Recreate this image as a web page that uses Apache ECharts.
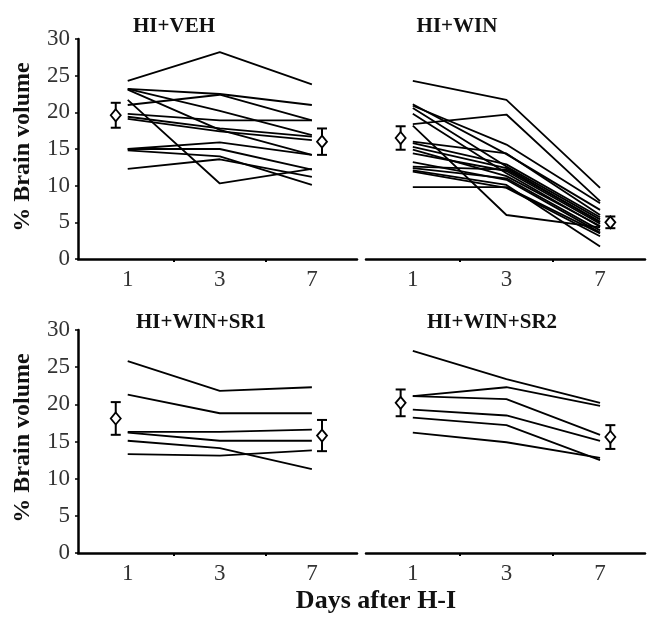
<!DOCTYPE html>
<html>
<head>
    <meta charset="utf-8"/>
    <title>Brain volume after H-I</title>
    <script src="https://cdn.jsdelivr.net/npm/echarts@6/dist/echarts.min.js"></script>
    <style>
        html, body { margin: 0; padding: 0; background: #fff; }
        #main { width: 649px; height: 618px; }
    </style>
</head>
<body>
<div id="main"></div>
<script type="text/javascript">
    // x tick labels (days after H-I)
    let days = ['1', '3', '7'];

    // one row per animal: % brain volume on day 1, 3, 7
    let vehLines = [
        [24.3, 28.2, 23.8],
        [23.2, 22.5, 21.0],
        [23.2, 20.2, 16.9],
        [23.1, 17.6, 14.2],
        [21.7, 10.3, 12.3],
        [21.0, 22.4, 18.9],
        [19.8, 18.9, 18.9],
        [19.4, 17.8, 16.7],
        [19.1, 17.4, 16.2],
        [15.0, 15.9, 14.2],
        [15.0, 15.0, 12.2],
        [14.8, 14.0, 10.1],
        [12.3, 13.6, 11.2]
    ];
    let winLines = [
        [24.3, 21.7, 9.7],
        [18.4, 19.7, 7.9],
        [20.9, 15.6, 7.6],
        [21.1, 14.3, 6.7],
        [20.6, 12.6, 5.4],
        [18.2, 6.0, 4.3],
        [19.8, 11.7, 4.4],
        [16.0, 14.4, 6.0],
        [15.8, 12.9, 5.7],
        [15.3, 12.4, 5.0],
        [14.9, 11.3, 4.5],
        [14.4, 12.0, 4.8],
        [13.2, 10.8, 3.6],
        [12.6, 12.2, 5.1],
        [12.4, 11.0, 3.9],
        [12.1, 10.1, 1.7],
        [11.9, 9.7, 3.1],
        [9.8, 9.8, 3.5]
    ];
    let sr1Lines = [
        [25.8, 21.8, 22.3],
        [21.3, 18.8, 18.8],
        [16.3, 16.3, 16.6],
        [16.2, 15.1, 15.1],
        [15.1, 14.1, 11.3],
        [13.3, 13.1, 13.8]
    ];
    let sr2Lines = [
        [27.2, 23.4, 20.2],
        [21.1, 22.3, 19.8],
        [21.1, 20.7, 15.9],
        [19.3, 18.5, 15.1],
        [18.2, 17.2, 12.5],
        [16.2, 14.9, 12.8]
    ];

    // group mean and error: [day 1, day 7], each [mean, err]
    let vehMean = [[19.6, 1.7], [16.0, 1.8]];
    let winMean = [[16.5, 1.6], [5.0, 0.8]];
    let sr1Mean = [[18.1, 2.2], [15.8, 2.1]];
    let sr2Mean = [[20.2, 1.8], [15.6, 1.6]];

    let panelTitles = ['HI+VEH', 'HI+WIN', 'HI+WIN+SR1', 'HI+WIN+SR2'];

    let serif = "'Liberation Serif', 'Times New Roman', serif";
    let chart = echarts.init(document.getElementById('main'), null, {renderer: 'canvas'});

    let grids = [
        {left: 78, top: 39, width: 279, height: 220},
        {left: 366, top: 39, width: 279, height: 220},
        {left: 78, top: 330, width: 279, height: 223},
        {left: 366, top: 330, width: 279, height: 223}
    ];

    let xAxes = [], yAxes = [], series = [];
    let groups = [vehLines, winLines, sr1Lines, sr2Lines];
    let means = [vehMean, winMean, sr1Mean, sr2Mean];

    groups.forEach(function (lines, i) {
        let isLeft = (i % 2 === 0);
        xAxes.push({
            gridIndex: i,
            type: 'value',
            min: isLeft ? 0.46 : 0.5,
            max: isLeft ? 3.49 : 3.48,
            splitLine: {show: false},
            axisLine: {lineStyle: {color: '#000', width: 2.5}},
            axisTick: {length: 3, lineStyle: {color: '#000', width: 2}, customValues: [1.5, 2.5]},
            axisLabel: {
                customValues: [1, 2, 3],
                formatter: function (v) { return days[Math.round(v) - 1]; },
                color: '#333', fontFamily: serif, fontSize: 23, margin: 9
            }
        });
        yAxes.push({
            gridIndex: i,
            type: 'value',
            min: 0, max: 30, interval: 5,
            show: isLeft,
            splitLine: {show: false},
            axisLine: {show: true, lineStyle: {color: '#000', width: 2.5}},
            axisTick: {show: true, length: 3, lineStyle: {color: '#000', width: 1.5}},
            axisLabel: {color: '#333', fontFamily: serif, fontSize: 23, margin: 8}
        });
        lines.forEach(function (row) {
            series.push({
                type: 'line',
                xAxisIndex: i, yAxisIndex: i,
                data: row.map(function (v, k) { return [k + 1, v]; }),
                symbol: 'none',
                silent: true,
                lineStyle: {color: '#000', width: 1.8}
            });
        });
        let m = means[i];
        series.push({
            type: 'custom',
            xAxisIndex: i, yAxisIndex: i,
            data: [[1 - 0.13, m[0][0], m[0][1]], [3 + 0.11, m[1][0], m[1][1]]],
            renderItem: renderMean,
            z: 5
        });
    });

    function renderMean(params, api) {
        let x = api.value(0), m = api.value(1), e = api.value(2);
        let c = api.coord([x, m]);
        let hi = api.coord([x, m + e]);
        let lo = api.coord([x, m - e]);
        let st = {stroke: '#000', lineWidth: 2, fill: null};
        return {
            type: 'group',
            children: [
                {type: 'line', shape: {x1: c[0], y1: hi[1], x2: c[0], y2: lo[1]}, style: st},
                {type: 'line', shape: {x1: c[0] - 5, y1: hi[1], x2: c[0] + 5, y2: hi[1]}, style: st},
                {type: 'line', shape: {x1: c[0] - 5, y1: lo[1], x2: c[0] + 5, y2: lo[1]}, style: st},
                {
                    type: 'polygon',
                    shape: {points: [[c[0], c[1] - 6], [c[0] + 5, c[1]], [c[0], c[1] + 6], [c[0] - 5, c[1]]]},
                    style: {fill: '#fff', stroke: '#000', lineWidth: 1.8}
                }
            ]
        };
    }

    let titlePos = [[174, 27], [457, 27], [201, 323], [492, 323]];
    let graphics = panelTitles.map(function (t, i) {
        return {
            type: 'text', x: titlePos[i][0], y: titlePos[i][1],
            style: {text: t, fill: '#111', font: 'bold 21px ' + serif, align: 'center', verticalAlign: 'middle'}
        };
    });
    [147, 438].forEach(function (cy) {
        graphics.push({
            type: 'text', x: 23, y: cy, rotation: Math.PI / 2,
            style: {text: '% Brain volume', fill: '#111', font: 'bold 24px ' + serif, align: 'center', verticalAlign: 'middle'}
        });
    });
    graphics.push({
        type: 'text', x: 376, y: 601,
        style: {text: 'Days after H-I', fill: '#111', font: 'bold 26px ' + serif, align: 'center', verticalAlign: 'middle'}
    });

    chart.setOption({
        animation: false,
        backgroundColor: '#fff',
        grid: grids,
        xAxis: xAxes,
        yAxis: yAxes,
        series: series,
        graphic: graphics
    });
</script>
</body>
</html>
